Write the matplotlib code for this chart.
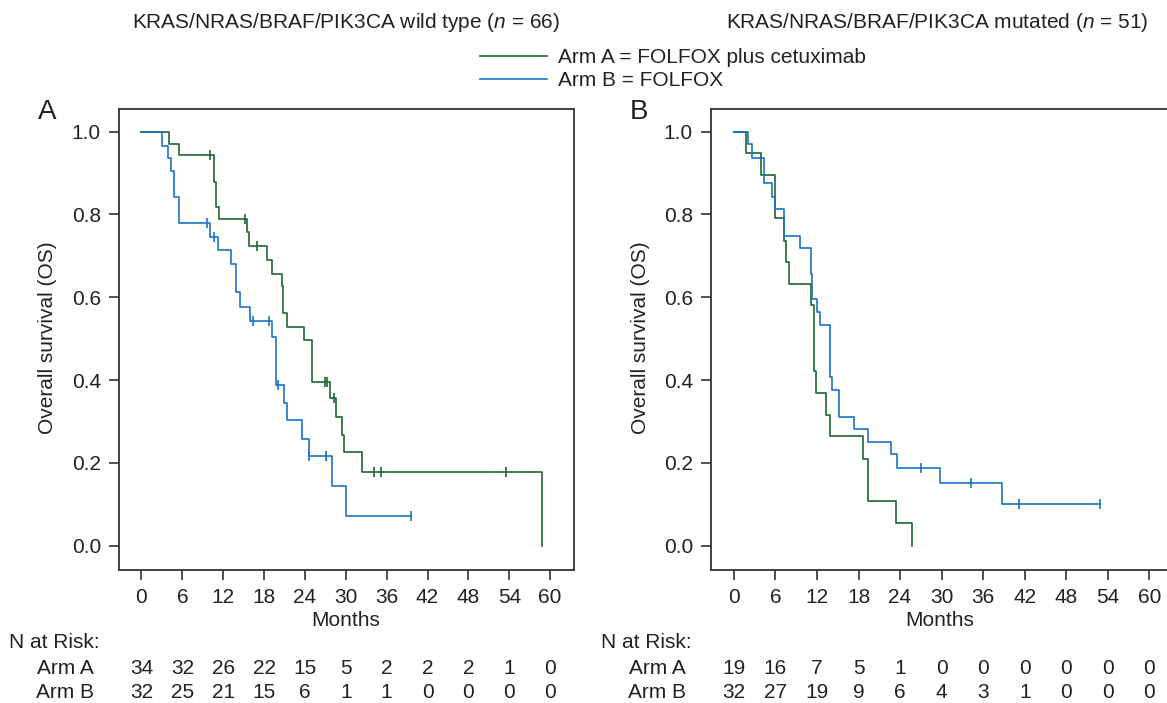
import matplotlib
matplotlib.use("Agg")
import matplotlib.pyplot as plt
from matplotlib.transforms import blended_transform_factory

plt.rcParams['font.family'] = ['Liberation Sans', 'DejaVu Sans']
plt.rcParams['mathtext.fontset'] = 'custom'
plt.rcParams['mathtext.it'] = 'Liberation Sans:italic'
plt.rcParams['mathtext.rm'] = 'Liberation Sans'

green = '#1f6532'
blue = '#1a73c4'
dark = '#222222'
fs = 15

# panel A (wild type) - Arm A
a_arm_a_t = [0, 4.0, 5.5, 10.6, 11.0, 11.4, 15.5, 15.8, 18.5, 19.1, 20.6, 20.8, 21.3, 23.8, 25.1, 27.7, 28.5, 29.5, 29.8, 32.4, 58.8]
a_arm_a_s = [1.0, 0.969, 0.944, 0.879, 0.819, 0.788, 0.757, 0.725, 0.691, 0.657, 0.627, 0.561, 0.528, 0.496, 0.396, 0.356, 0.312, 0.267, 0.226, 0.179, 0.0]
a_arm_a_cens = [10.0, 15.2, 16.9, 27.0, 27.3, 28.2, 34.2, 35.2, 53.5]
# panel A - Arm B
a_arm_b_t = [0, 3.0, 3.9, 4.4, 4.75, 5.5, 10.1, 11.2, 13.2, 13.9, 14.5, 16.0, 19.2, 19.7, 20.9, 21.4, 23.5, 24.6, 27.9, 30.0, 39.6]
a_arm_b_s = [1.0, 0.966, 0.936, 0.906, 0.843, 0.779, 0.745, 0.713, 0.680, 0.612, 0.577, 0.543, 0.505, 0.388, 0.344, 0.304, 0.258, 0.217, 0.143, 0.072, 0.072]
a_arm_b_cens = [9.6, 10.7, 16.4, 18.7, 20.1, 24.6, 27.1, 39.6]

# panel B (mutated) - Arm A
b_arm_a_t = [0, 1.7, 3.9, 5.9, 7.2, 7.6, 8.0, 11.2, 11.6, 11.8, 13.35, 13.9, 18.7, 19.3, 23.4, 25.7]
b_arm_a_s = [1.0, 0.948, 0.896, 0.791, 0.736, 0.685, 0.632, 0.581, 0.422, 0.369, 0.316, 0.265, 0.210, 0.107, 0.055, 0.0]
b_arm_a_cens = []
# panel B - Arm B
b_arm_b_t = [0, 2.0, 2.65, 4.3, 5.55, 5.9, 7.2, 9.6, 11.1, 11.35, 12.05, 12.5, 13.95, 14.1, 15.2, 17.4, 19.4, 22.7, 23.5, 29.8, 38.7, 52.85]
b_arm_b_s = [1.0, 0.970, 0.937, 0.876, 0.843, 0.813, 0.749, 0.720, 0.657, 0.595, 0.565, 0.533, 0.407, 0.376, 0.312, 0.281, 0.251, 0.221, 0.187, 0.152, 0.100, 0.100]
b_arm_b_cens = [27.0, 34.2, 41.2, 52.85]

risk_times = [0, 6, 12, 18, 24, 30, 36, 42, 48, 54, 60]
a_risk_a = [34, 32, 26, 22, 15, 5, 2, 2, 2, 1, 0]
a_risk_b = [32, 25, 21, 15, 6, 1, 1, 0, 0, 0, 0]
b_risk_a = [19, 16, 7, 5, 1, 0, 0, 0, 0, 0, 0]
b_risk_b = [32, 27, 19, 9, 6, 4, 3, 1, 0, 0, 0]

W, H = 1167, 703
fig = plt.figure(figsize=(W / 100, H / 100), dpi=100)


def px(x, y):
    return x / W, 1 - y / H


def surv_at(ts, ss, c):
    val = ss[0]
    for t, s in zip(ts, ss):
        if t <= c:
            val = s
    return val


def km(ax, ts, ss, cens, color):
    line, = ax.step(ts, ss, where='post', color=color, lw=1.2)
    if cens:
        ax.plot(cens, [surv_at(ts, ss, c) for c in cens], ls='none', marker='|',
                ms=7, mew=1.2, color=color)
    return line


def setup(ax, left_px, xmax, risk_a, risk_b, label, title, title_x, xlab_x):
    ax.set_xlim(-3.3, xmax)
    ax.set_ylim(-0.0587, 1.054)
    ax.set_xticks(risk_times)
    ax.set_yticks([0, 0.2, 0.4, 0.6, 0.8, 1.0])
    ax.set_yticklabels(['0.0', '0.2', '0.4', '0.6', '0.8', '1.0'])
    ax.tick_params(direction='out', length=7, width=1.2, color='#333333',
                   labelsize=fs, labelcolor=dark, pad=6)
    for sp in ax.spines.values():
        sp.set_linewidth(1.3)
        sp.set_color('#333333')
    fig.text(*px(left_px - 71, 338), 'Overall survival (OS)', rotation=90,
             ha='center', va='center', fontsize=fs, color=dark)
    fig.text(*px(xlab_x, 620), 'Months', ha='center', va='center', fontsize=fs, color=dark)
    fig.text(*px(left_px - 72, 112), label, ha='center', va='center', fontsize=20, color=dark)
    fig.text(*px(title_x, 22), title, ha='center', va='center', fontsize=fs, color=dark)
    # number at risk table
    tr = blended_transform_factory(ax.transData, fig.transFigure)
    fig.text(*px(left_px - 110, 643), 'N at Risk:', ha='left', va='center', fontsize=fs, color=dark)
    fig.text(*px(left_px - 25, 668), 'Arm A', ha='right', va='center', fontsize=fs, color=dark)
    fig.text(*px(left_px - 25, 693), 'Arm B', ha='right', va='center', fontsize=fs, color=dark)
    for t, na, nb in zip(risk_times, risk_a, risk_b):
        ax.text(t, px(0, 668)[1], str(na), transform=tr, ha='center', va='center',
                fontsize=fs, color=dark)
        ax.text(t, px(0, 693)[1], str(nb), transform=tr, ha='center', va='center',
                fontsize=fs, color=dark)


bottom = (H - 570) / H
height = 460.7 / H
axA = fig.add_axes([119 / W, bottom, 455 / W, height])
axB = fig.add_axes([711 / W, bottom, 473 / W, height])

lA = km(axA, a_arm_a_t, a_arm_a_s, a_arm_a_cens, green)
lB = km(axA, a_arm_b_t, a_arm_b_s, a_arm_b_cens, blue)
km(axB, b_arm_a_t, b_arm_a_s, b_arm_a_cens, green)
km(axB, b_arm_b_t, b_arm_b_s, b_arm_b_cens, blue)

setup(axA, 119, 63.5, a_risk_a, a_risk_b, 'A',
      r'KRAS/NRAS/BRAF/PIK3CA wild type ($\it{n}$ = 66)', 346, 346)
setup(axB, 711, 65.0, b_risk_a, b_risk_b, 'B',
      r'KRAS/NRAS/BRAF/PIK3CA mutated ($\it{n}$ = 51)', 937, 940)

fig.legend([lA, lB], ['Arm A = FOLFOX plus cetuximab', 'Arm B = FOLFOX'],
           loc='center left', bbox_to_anchor=px(480, 69), frameon=False,
           borderpad=0, borderaxespad=0, handlelength=3.2, handletextpad=0.55,
           labelspacing=0.2, fontsize=fs, labelcolor=dark)

fig.savefig('out.png', dpi=100)
